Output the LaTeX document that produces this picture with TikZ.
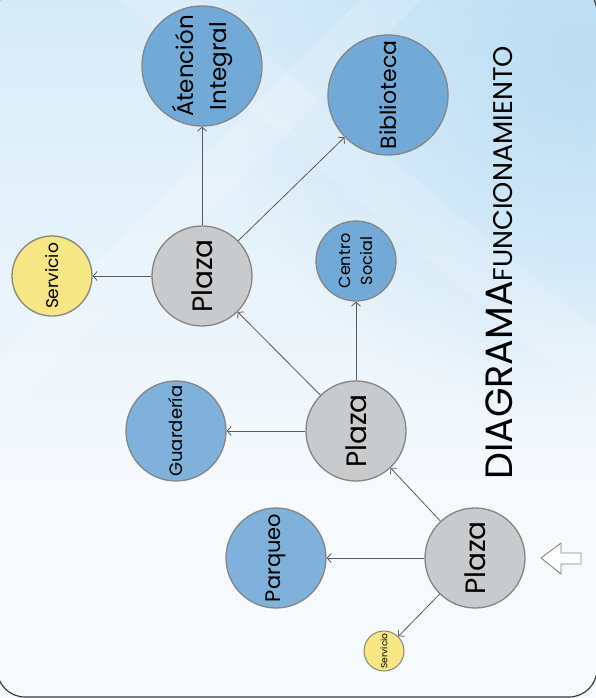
\documentclass[tikz,border=0pt]{standalone}
\usepackage{fontspec}
\setmainfont{Poppins}
\usetikzlibrary{arrows.meta,fadings}
\tikzfading[name=myfadeout, inner color=transparent!0, outer color=transparent!100]
\definecolor{bluefillA}{HTML}{72A9D7}
\definecolor{bluefillB}{HTML}{7FB1DA}
\definecolor{plazafill}{HTML}{C8CACB}
\definecolor{servfill}{HTML}{F6E685}
\definecolor{nodeborder}{HTML}{858585}
\definecolor{linegray}{HTML}{5A5A5A}
\definecolor{bgtop}{HTML}{D6EBF8}
\definecolor{bgbottom}{HTML}{F7FAFD}
\definecolor{bgdeep}{HTML}{B9DCF3}
\definecolor{framecol}{HTML}{3A3A3A}
\tikzset{
  circnode/.style={circle, draw=nodeborder, line width=1.3pt, inner sep=0pt, rotate=90, align=center, text=black},
  bluenodeA/.style={circnode, fill=bluefillA},
  bluenodeB/.style={circnode, fill=bluefillB},
  plazanode/.style={circnode, fill=plazafill, minimum size=100pt, font=\fontsize{28}{30}\selectfont},
  servnode/.style={circnode, fill=servfill},
  conn/.style={draw=linegray, line width=0.8pt, -{Straight Barb[length=4pt,width=9pt]}}
}
\begin{document}
\begin{tikzpicture}[x=1pt,y=-1pt]
\useasboundingbox (0,0) rectangle (596,698);
% background
\begin{scope}
\clip (0,0) rectangle (596,698);
\fill[bgbottom] (0,0) rectangle (596,698);
\shade[top color=bgtop, bottom color=bgbottom] (0,0) rectangle (596,500);
\fill[bgdeep, path fading=myfadeout, opacity=0.9] (580,60) circle (360);
\fill[white, opacity=0.18] (0,360) -- (360,0) -- (420,0) -- (0,420) -- cycle;
\fill[white, opacity=0.15] (120,0) -- (200,0) -- (596,330) -- (596,400) -- cycle;
\end{scope}
\draw[framecol, line width=1.2pt, rounded corners=28pt] (-3,-16) rectangle (597,697);
% nodes
\node[bluenodeA, minimum size=120pt, font=\fontsize{23}{33}\selectfont] (at) at (202,66) {Átención\\Integral};
\node[bluenodeA, minimum size=120pt, font=\fontsize{22}{26}\selectfont] (bib) at (388,95) {Biblioteca};
\node[plazanode] (pt) at (202,276) {Plaza};
\node[servnode, minimum size=80pt, font=\fontsize{17}{20}\selectfont] (sv1) at (52,276) {Servicio};
\node[bluenodeA, minimum size=80pt, font=\fontsize{16}{22}\selectfont] (cs) at (356,261) {Centro\\Social};
\node[plazanode] (pm) at (356,431) {Plaza};
\node[bluenodeB, minimum size=100pt, font=\fontsize{18}{20}\selectfont] (gu) at (176,431) {Guardería};
\node[plazanode] (pb) at (475,558) {Plaza};
\node[bluenodeB, minimum size=100pt, font=\fontsize{21}{24}\selectfont] (pq) at (276,558) {Parqueo};
\node[servnode, minimum size=40pt, line width=1pt, font=\fontsize{9}{10}\selectfont] (sv2) at (384,651) {Servicio};
% connectors
\draw[conn] (pt) -- (sv1);
\draw[conn] (pt) -- (at);
\draw[conn] (pt) -- (bib);
\draw[conn] (pm) -- (pt);
\draw[conn] (pm) -- (cs);
\draw[conn] (pm) -- (gu);
\draw[conn] (pb) -- (pm);
\draw[conn] (pb) -- (pq);
\draw[conn] (pb) -- (sv2);
% title
\node[rotate=90, anchor=base west, inner sep=0pt] (title) at (512,480)
  {\fontsize{38}{38}\selectfont DIAGRAMA\fontsize{27}{27}\selectfont FUNCIONAMIENTO};
% block arrow
\draw[draw=nodeborder, fill=white, line width=0.9pt, line join=miter]
  (541,558) -- (561,543) -- (561,553) -- (581,553) -- (581,564) -- (561,564) -- (561,574) -- cycle;
\end{tikzpicture}
\end{document}
